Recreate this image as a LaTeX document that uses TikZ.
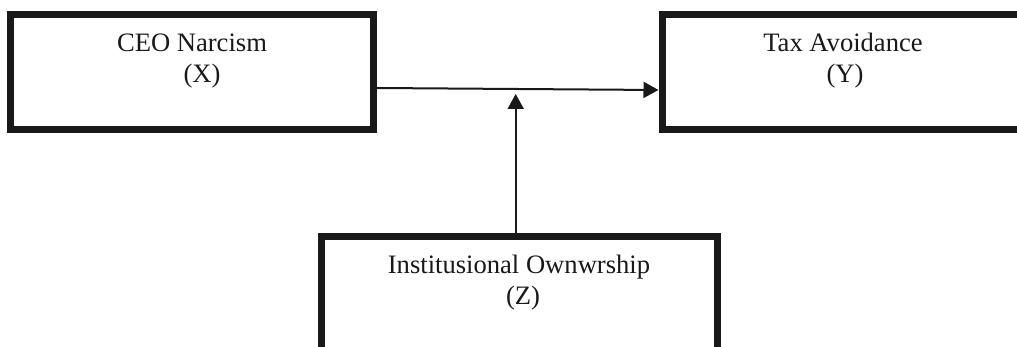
\documentclass[tikz,border=0pt]{standalone}
\usepackage{fontspec}
\setmainfont{Liberation Serif}
\usetikzlibrary{arrows.meta}
\begin{document}
\begin{tikzpicture}[x=1pt,y=-1pt,
  varbox/.style={draw=black!90,line width=7pt,inner sep=0pt,rectangle},
  lbl/.style={inner sep=0pt,anchor=north,align=center,text=black!90,
    font=\fontsize{26.6}{31}\selectfont},
  conn/.style={draw=black!90,line width=2pt,
    -{Triangle[length=15pt,width=16pt]}}]
\useasboundingbox (0,0) rectangle (1017,347);
\clip (0,0) rectangle (1017,347);
\fill[white] (0,0) rectangle (1017,347);
% boxes (centre lines of the thick borders)
\node[varbox,minimum width=363pt,minimum height=115pt] (xbox) at (192,72) {};
\node[varbox,minimum width=362pt,minimum height=115pt] (ybox) at (843,72) {};
\node[varbox,minimum width=396pt,minimum height=120pt] (zbox) at (519,297) {};
% labels
\node[lbl] (xlbl) at (192,34) {CEO Narcism\\\hspace*{20pt}(X)};
\node[lbl] (ylbl) at (843,33) {Tax Avoidance\\\hspace*{4pt}(Y)};
\node[lbl] (zlbl) at (519,255) {Institusional Ownwrship\\\hspace*{8pt}(Z)};
% connectors
\coordinate (mod) at (515.7,94);
\draw[conn] ([yshift=-16pt]xbox.east) -- ([yshift=-18pt]ybox.west);
\draw[conn] (zbox.north -| mod) -- (mod);
\end{tikzpicture}
\end{document}
